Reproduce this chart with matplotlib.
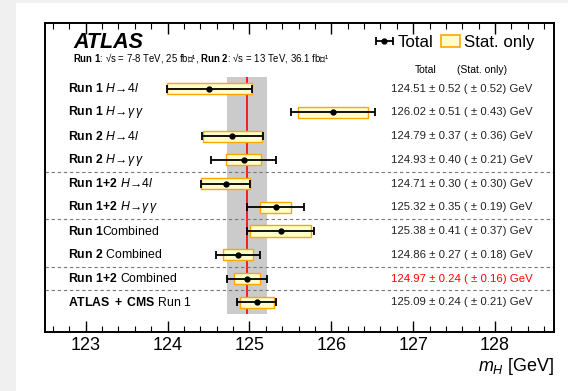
import matplotlib
matplotlib.use("Agg")
import matplotlib.pyplot as plt
import matplotlib.transforms as mtransforms
from matplotlib.patches import Rectangle, Patch
from matplotlib.ticker import MultipleLocator

plt.rcParams["font.family"] = ["Liberation Sans", "DejaVu Sans"]
plt.rcParams["mathtext.fontset"] = "custom"
plt.rcParams["mathtext.rm"] = "Liberation Sans"
plt.rcParams["mathtext.it"] = "Liberation Sans:italic"
plt.rcParams["mathtext.bf"] = "Liberation Sans:bold"
plt.rcParams["mathtext.sf"] = "Liberation Sans"

# Higgs mass measurements
labels = [
    r"$\bf{Run\ 1}$ $H\!\rightarrow\!4l$",
    r"$\bf{Run\ 1}$ $H\!\rightarrow\!\gamma\,\gamma$",
    r"$\bf{Run\ 2}$ $H\!\rightarrow\!4l$",
    r"$\bf{Run\ 2}$ $H\!\rightarrow\!\gamma\,\gamma$",
    r"$\bf{Run\ 1\!+\!2}$ $H\!\rightarrow\!4l$",
    r"$\bf{Run\ 1\!+\!2}$ $H\!\rightarrow\!\gamma\,\gamma$",
    r"$\bf{Run\ 1}$Combined",
    r"$\bf{Run\ 2}$ Combined",
    r"$\bf{Run\ 1\!+\!2}$ Combined",
    r"$\bf{ATLAS\ +\ CMS}$ Run 1",
]
mass = [124.51, 126.02, 124.79, 124.93, 124.71, 125.32, 125.38, 124.86, 124.97, 125.09]
total_err = [0.52, 0.51, 0.37, 0.40, 0.30, 0.35, 0.41, 0.27, 0.24, 0.24]
stat_err = [0.52, 0.43, 0.36, 0.21, 0.30, 0.19, 0.37, 0.18, 0.16, 0.21]
highlight = 8  # Run 1+2 combined result
separators = [3.5, 5.5, 7.5, 8.5]
xticks = [123, 124, 125, 126, 127, 128]

rows = list(range(len(mass)))

fig = plt.figure(figsize=(5.68, 3.91), dpi=100, facecolor="#f0f0f0")
fig.patches.append(Rectangle((16 / 568, 0), 1 - 16 / 568, 1 - 3 / 391,
                             transform=fig.transFigure, facecolor="white",
                             edgecolor="none", zorder=-5))

ax = fig.add_axes([0.0787, 0.1517, 0.8967, 0.7903])
ax.set_zorder(1)
ax.set_facecolor("white")
ax.set_xlim(122.5, 128.72)
ax.set_ylim(10.24, -2.78)

# combined-result band and central value
c, ce = mass[highlight], total_err[highlight]
ax.fill_betweenx([-0.5, 9.5], c - ce, c + ce, color="#cbcbcb", lw=0, zorder=1)
ax.vlines(c, -0.5, 9.5, color="red", lw=1.2, zorder=2)

for s in separators:
    ax.axhline(s, color="#777777", ls=(0, (3, 2.5)), lw=0.8, zorder=2)

# statistical-only boxes
lefts = [m - s for m, s in zip(mass, stat_err)]
widths = [2 * s for s in stat_err]
ax.barh(rows, widths, left=lefts, height=0.47, color="#ffffcc",
        edgecolor="#ffa500", linewidth=1.0, zorder=3)

# total uncertainty
eb = ax.errorbar(mass, rows, xerr=total_err, fmt="o", color="black", ms=3.5,
                 elinewidth=1.3, capsize=3, capthick=1.3, zorder=4)

trans = mtransforms.blended_transform_factory(ax.transAxes, ax.transData)
for i, (lab, m, t, s) in enumerate(zip(labels, mass, total_err, stat_err)):
    ax.text(0.045, i, lab, transform=trans, fontsize=8.8, va="center", ha="left")
    col = "red" if i == highlight else "#222222"
    ax.text(0.680, i, f"{m:.2f} ± {t:.2f} ( ± {s:.2f}) GeV", transform=trans,
            fontsize=8.2, va="center", ha="left", color=col)

ax.text(0.0556, -1.70, "ATLAS", transform=trans, fontsize=15.5,
        fontweight="bold", fontstyle="italic", va="baseline", ha="left")
ax.text(0.0556, -1.13,
        r"$\bf{Run\ 1}$: √s = 7-8 TeV, 25 fb⁻¹, "
        r"$\bf{Run\ 2}$: √s = 13 TeV, 36.1 fb⁻¹",
        transform=trans, fontsize=6.9, va="baseline", ha="left")
ax.text(0.727, -0.80, "Total", transform=trans, fontsize=7.5, va="center", ha="left")
ax.text(0.809, -0.80, "(Stat. only)", transform=trans, fontsize=7.5, va="center", ha="left")

handles = [eb, Patch(facecolor="#ffffcc", edgecolor="#ffa500", lw=1.2)]
ax.legend(handles, ["Total", "Stat. only"], ncol=2, loc="upper right",
          bbox_to_anchor=(0.985, 1.0), frameon=False, fontsize=12.2,
          handlelength=1.1, handletextpad=0.25, columnspacing=0.45,
          borderaxespad=0.3)

ax.set_xticks(xticks)
ax.xaxis.set_minor_locator(MultipleLocator(0.2))
ax.set_yticks([])
ax.tick_params(axis="x", which="major", direction="in", length=8, width=1,
               top=True, labelsize=13, pad=4)
ax.tick_params(axis="x", which="minor", direction="in", length=4, width=0.8,
               top=True)
for sp in ax.spines.values():
    sp.set_linewidth(1.4)

ax.set_xlabel(r"$m_{H}$ [GeV]", fontsize=13, loc="right", labelpad=1)

fig.savefig("out.png", dpi=100, facecolor=fig.get_facecolor())
